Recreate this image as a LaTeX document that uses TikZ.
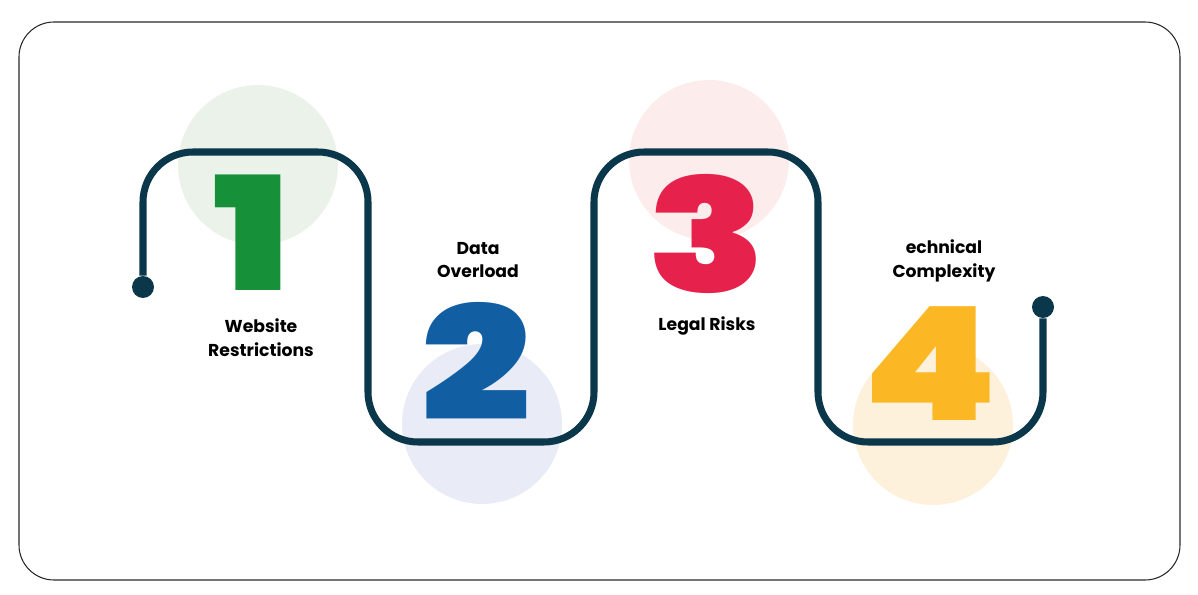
\documentclass[tikz,border=0pt]{standalone}
\usepackage{fontspec}
\setmainfont{Poppins}
\IfFontExistsTF{Poppins Black}
  {\newfontfamily\heavyfont{Poppins Black}}
  {\newfontfamily\heavyfont{Poppins}[UprightFont=*-Bold,FakeBold=1.5]}
\newcommand{\wide}[1]{\scalebox{1.22}[1]{#1}}
\usetikzlibrary{positioning}
\definecolor{Navy}{RGB}{11,55,75}
\definecolor{Leaf}{RGB}{22,145,57}
\definecolor{Ocean}{RGB}{17,94,163}
\definecolor{Crimson}{RGB}{230,33,76}
\definecolor{Amber}{RGB}{251,184,36}
\definecolor{LeafPale}{RGB}{235,242,234}
\definecolor{OceanPale}{RGB}{233,236,246}
\definecolor{CrimsonPale}{RGB}{252,236,235}
\definecolor{AmberPale}{RGB}{253,241,220}
\definecolor{Frame}{RGB}{40,40,40}

\begin{document}
\begin{tikzpicture}[
    x=0.02cm,y=-0.02cm,
    blob/.style={circle,minimum size=3.2cm,inner sep=0pt},
    track/.style={draw=Navy,line width=4pt,rounded corners=1cm},
    dot/.style={circle,fill=Navy,minimum size=0.44cm,inner sep=0pt},
    digit/.style={anchor=base,inner sep=0pt,text depth=0pt,font=\fontsize{90}{90}\heavyfont},
    caption/.style={align=center,font=\fontsize{9.8}{13.6}\selectfont\bfseries,text=black}
]
\useasboundingbox (0,0) rectangle (1198,595);

% outer frame
\draw[Frame,line width=0.6pt,rounded corners=0.7cm] (19,22) rectangle (1180,580);

% pale circles
\node[blob,fill=LeafPale] (b1) at (258,165) {};
\node[blob,fill=OceanPale] (b2) at (482,424) {};
\node[blob,fill=CrimsonPale] (b3) at (709,160) {};
\node[blob,fill=AmberPale] (b4) at (933,425) {};

% end points
\node[dot] (start) at (143,287) {};
\node[dot] (end) at (1043,307) {};

% turning points
\coordinate (k1) at (368,152);
\coordinate (k2) at (594,442);
\coordinate (k3) at (818,152);
\coordinate (k4) at (1043,442);

% winding track
\draw[track] (start) |- (k1) |- (k2) |- (k3) |- (k4) -- (end);

% numbers
\node[digit,text=Leaf] (n1) at (252,290) {\wide{1}};
\node[digit,text=Ocean] (n2) at (476,420) {\wide{2}};
\node[digit,text=Crimson] (n3) at (707,292) {\wide{3}};
\node[digit,text=Amber] (n4) at (930,420) {\wide{4}};

% labels
\node[caption] (t1) at (261,338) {Website\\Restrictions};
\node[caption] (t2) at (478,260) {Data\\Overload};
\node[caption] (t3) at (707,326) {Legal Risks};
\node[caption] (t4) at (944,261) {echnical\\Complexity};

\end{tikzpicture}
\end{document}
